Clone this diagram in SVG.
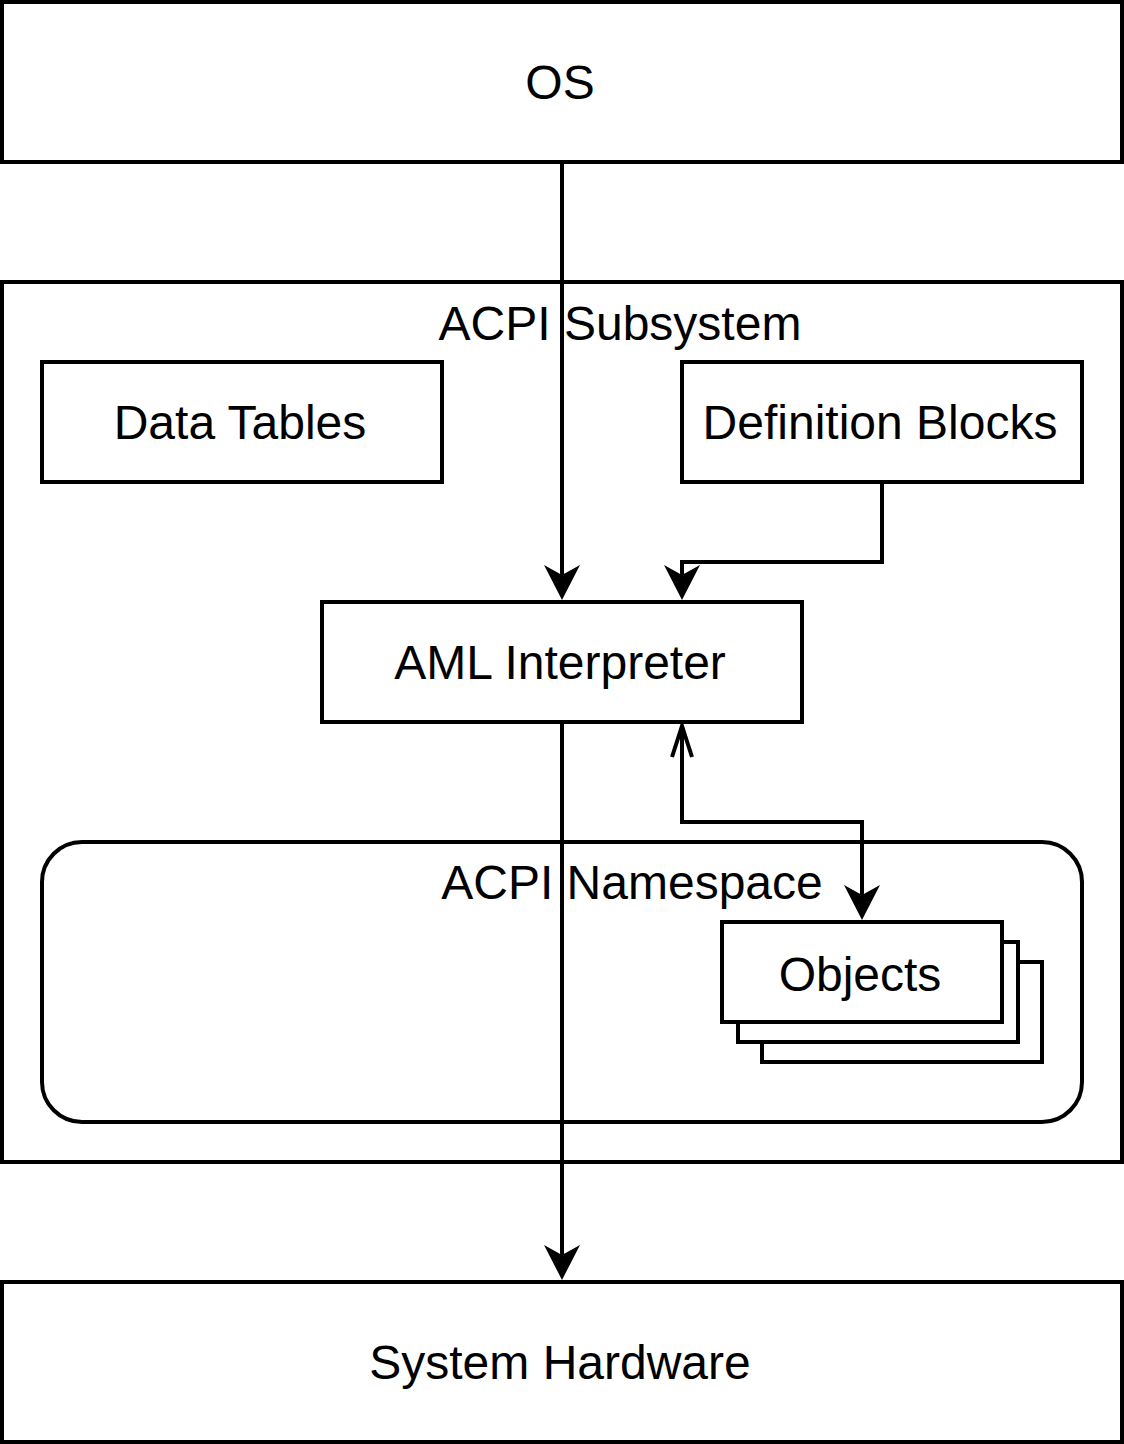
<svg xmlns="http://www.w3.org/2000/svg" width="1124" height="1444" viewBox="0 0 1124 1444">
<style>
  .box{fill:#fff;stroke:#000;stroke-width:4}
  .lbl{font-family:"Liberation Sans",Arial,sans-serif;font-size:48px;fill:#000;text-anchor:middle;dominant-baseline:central}
  .edge{fill:none;stroke:#000;stroke-width:4}
</style>
<defs>
  <marker id="filled" markerUnits="userSpaceOnUse" viewBox="0 0 36 36" markerWidth="36" markerHeight="36" refX="25" refY="18" orient="auto">
    <path d="M0,0 L35,18 L0,36 L10,18 Z" fill="#000"/>
  </marker>
  <marker id="open" markerUnits="userSpaceOnUse" viewBox="0 0 38 28" markerWidth="38" markerHeight="28" refX="34" refY="14" orient="auto-start-reverse">
    <path d="M3,4 L34,14 L3,24" fill="none" stroke="#000" stroke-width="4"/>
  </marker>
</defs>
<rect width="1124" height="1444" fill="#fff"/>
<g id="os"><rect class="box" x="2" y="2" width="1120" height="160"/><text class="lbl" x="560" y="82">OS</text></g>
<g id="acpi-subsystem"><rect class="box" x="2" y="282" width="1120" height="880"/><text class="lbl" x="620" y="323">ACPI Subsystem</text></g>
<g id="data-tables"><rect class="box" x="42" y="362" width="400" height="120"/><text class="lbl" x="240" y="422">Data Tables</text></g>
<g id="definition-blocks"><rect class="box" x="682" y="362" width="400" height="120"/><text class="lbl" x="880" y="422">Definition Blocks</text></g>
<g id="aml-interpreter"><rect class="box" x="322" y="602" width="480" height="120"/><text class="lbl" x="560" y="662">AML Interpreter</text></g>
<g id="acpi-namespace"><rect class="box" x="42" y="842" width="1040" height="280" rx="40" ry="40"/><text class="lbl" x="632" y="882">ACPI Namespace</text></g>
<g id="objects">
  <rect class="box" x="762" y="962" width="280" height="100"/>
  <rect class="box" x="738" y="942" width="280" height="100"/>
  <rect class="box" x="722" y="922" width="280" height="100"/>
  <text class="lbl" x="860" y="974">Objects</text>
</g>
<g id="system-hardware"><rect class="box" x="2" y="1282" width="1120" height="160"/><text class="lbl" x="560" y="1362">System Hardware</text></g>
<g id="connectors">
  <path class="edge" d="M562,164 L562,590" marker-end="url(#filled)"/>
  <path class="edge" d="M882,484 L882,562 L682,562 L682,590" marker-end="url(#filled)"/>
  <path class="edge" d="M682,726 L682,822 L862,822 L862,910" marker-start="url(#open)" marker-end="url(#filled)"/>
  <path class="edge" d="M562,724 L562,1270" marker-end="url(#filled)"/>
</g>
</svg>
